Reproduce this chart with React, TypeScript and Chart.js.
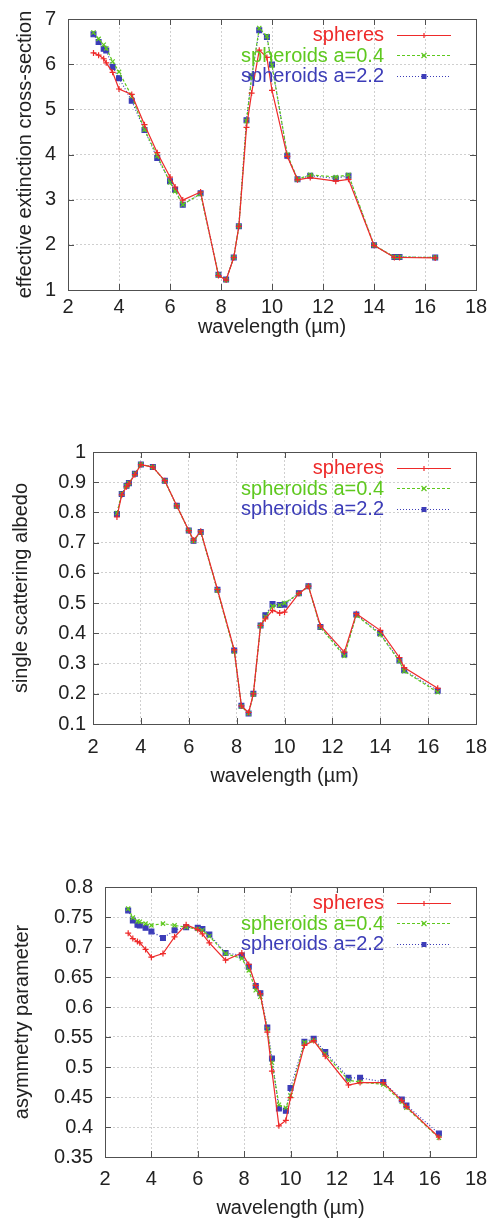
import React, { useEffect, useRef } from 'react';
import { Chart, registerables } from 'chart.js';

Chart.register(...registerables);

// ---------------- data ----------------
const wavelength = [3.0, 3.2, 3.4, 3.5, 3.75, 4.0, 4.5, 5.0, 5.5, 6.0, 6.2, 6.5, 7.2, 7.9, 8.2, 8.5, 8.7, 9.0, 9.2, 9.5, 9.8, 10.0, 10.6, 11.0, 11.5, 12.5, 13.0, 14.0, 14.8, 15.0, 16.4];

const seriesLabels = ['spheres', 'spheroids a=0.4', 'spheroids a=2.2'];

const extSpheres = [6.25, 6.20, 6.12, 6.03, 5.82, 5.45, 5.33, 4.66, 4.04, 3.50, 3.28, 2.99, 3.17, 1.32, 1.22, 1.72, 2.41, 4.60, 5.36, 6.31, 6.15, 5.42, 3.96, 3.44, 3.49, 3.41, 3.45, 1.99, 1.72, 1.72, 1.71];
const extSpheroids04 = [6.70, 6.56, 6.43, 6.35, 6.06, 5.83, 5.29, 4.55, 3.97, 3.38, 3.19, 2.89, 3.13, 1.33, 1.22, 1.72, 2.41, 4.74, 5.70, 6.80, 6.62, 5.97, 4.00, 3.45, 3.55, 3.50, 3.55, 1.99, 1.73, 1.73, 1.72];
const extSpheroids22 = [6.66, 6.49, 6.34, 6.30, 5.94, 5.69, 5.19, 4.54, 3.92, 3.41, 3.22, 2.89, 3.14, 1.34, 1.23, 1.72, 2.41, 4.76, 5.73, 6.75, 6.60, 5.99, 3.97, 3.45, 3.53, 3.47, 3.53, 1.99, 1.73, 1.73, 1.72];

const albSpheres = [0.785, 0.858, 0.885, 0.895, 0.925, 0.958, 0.950, 0.905, 0.822, 0.740, 0.708, 0.738, 0.545, 0.345, 0.160, 0.138, 0.200, 0.426, 0.448, 0.476, 0.467, 0.470, 0.532, 0.556, 0.425, 0.338, 0.465, 0.410, 0.320, 0.287, 0.218];
const albSpheroids04 = [0.798, 0.862, 0.888, 0.897, 0.928, 0.959, 0.950, 0.904, 0.821, 0.740, 0.706, 0.735, 0.542, 0.340, 0.158, 0.135, 0.198, 0.425, 0.455, 0.490, 0.493, 0.500, 0.531, 0.555, 0.420, 0.325, 0.460, 0.396, 0.308, 0.275, 0.205];
const albSpheroids22 = [0.795, 0.861, 0.888, 0.897, 0.928, 0.959, 0.950, 0.905, 0.822, 0.740, 0.706, 0.735, 0.544, 0.343, 0.160, 0.135, 0.200, 0.426, 0.460, 0.497, 0.494, 0.495, 0.533, 0.556, 0.421, 0.330, 0.462, 0.400, 0.310, 0.278, 0.210];

const asySpheres = [0.723, 0.714, 0.709, 0.707, 0.696, 0.683, 0.689, 0.717, 0.737, 0.729, 0.722, 0.707, 0.678, 0.690, 0.671, 0.636, 0.622, 0.558, 0.493, 0.402, 0.411, 0.449, 0.536, 0.544, 0.518, 0.470, 0.474, 0.474, 0.444, 0.434, 0.383];
const asySpheroids04 = [0.764, 0.749, 0.743, 0.742, 0.739, 0.736, 0.739, 0.736, 0.733, 0.730, 0.728, 0.718, 0.689, 0.681, 0.661, 0.628, 0.617, 0.563, 0.507, 0.437, 0.432, 0.453, 0.541, 0.544, 0.522, 0.478, 0.475, 0.471, 0.442, 0.432, 0.382];
const asySpheroids22 = [0.761, 0.744, 0.737, 0.736, 0.732, 0.726, 0.715, 0.728, 0.733, 0.732, 0.730, 0.721, 0.690, 0.686, 0.667, 0.635, 0.623, 0.566, 0.514, 0.431, 0.427, 0.465, 0.542, 0.547, 0.525, 0.482, 0.482, 0.475, 0.446, 0.436, 0.389];

const xTicks = [2, 4, 6, 8, 10, 12, 14, 16, 18];
const extTicks = [1, 2, 3, 4, 5, 6, 7];
const albTicks = [0.1, 0.2, 0.3, 0.4, 0.5, 0.6, 0.7, 0.8, 0.9, 1];
const asyTicks = [0.35, 0.4, 0.45, 0.5, 0.55, 0.6, 0.65, 0.7, 0.75, 0.8];

const xTitle = 'wavelength (\u00b5m)';
const extTitle = 'effective extinction cross-section';
const albTitle = 'single scattering albedo';
const asyTitle = 'asymmetry parameter';

// ---------------- styles ----------------
const FONT = '"Liberation Sans", Arial, Helvetica, sans-serif';
const TEXT = '#222222';
const seriesStyles = [
  { color: '#ee2a2a', dash: [] as number[], marker: 'plus' },
  { color: '#5ec81e', dash: [3, 2], marker: 'x' },
  { color: '#3c3cb8', dash: [1, 2], marker: 'square' },
];

function drawMarker(ctx: CanvasRenderingContext2D, kind: string, x: number, y: number, color: string) {
  ctx.save();
  ctx.setLineDash([]);
  ctx.strokeStyle = color;
  ctx.fillStyle = color;
  ctx.lineWidth = 1.2;
  ctx.beginPath();
  if (kind === 'plus') {
    ctx.moveTo(x - 2.5, y); ctx.lineTo(x + 2.5, y);
    ctx.moveTo(x, y - 2.5); ctx.lineTo(x, y + 2.5);
    ctx.stroke();
  } else if (kind === 'x') {
    ctx.moveTo(x - 2.5, y - 2.5); ctx.lineTo(x + 2.5, y + 2.5);
    ctx.moveTo(x - 2.5, y + 2.5); ctx.lineTo(x + 2.5, y - 2.5);
    ctx.stroke();
  } else {
    ctx.fillRect(x - 2.5, y - 2.5, 5, 5);
  }
  ctx.restore();
}

const framePlugin = {
  id: 'gnuFrame',
  afterDatasetsDraw(chart: any) {
    const { ctx, chartArea } = chart;
    const { left, right, top, bottom } = chartArea;
    ctx.save();
    ctx.setLineDash([]);
    ctx.strokeStyle = '#505050';
    ctx.lineWidth = 1;
    ctx.strokeRect(Math.round(left) + 0.5, Math.round(top) + 0.5, Math.round(right - left), Math.round(bottom - top));
    const tl = 6;
    const xs = chart.scales.x;
    const ys = chart.scales.y;
    ctx.beginPath();
    xs.ticks.forEach((t: any) => {
      const px = Math.round(xs.getPixelForValue(t.value)) + 0.5;
      ctx.moveTo(px, bottom); ctx.lineTo(px, bottom - tl);
      ctx.moveTo(px, top); ctx.lineTo(px, top + tl);
    });
    ys.ticks.forEach((t: any) => {
      const py = Math.round(ys.getPixelForValue(t.value)) + 0.5;
      ctx.moveTo(left, py); ctx.lineTo(left + tl, py);
      ctx.moveTo(right, py); ctx.lineTo(right - tl, py);
    });
    ctx.stroke();
    ctx.restore();
  },
};

const legendPlugin = {
  id: 'gnuKey',
  afterDraw(chart: any) {
    const { ctx, chartArea } = chart;
    const { right, top } = chartArea;
    ctx.save();
    ctx.font = `20px ${FONT}`;
    ctx.textAlign = 'right';
    ctx.textBaseline = 'middle';
    chart.data.datasets.forEach((ds: any, i: number) => {
      const st = seriesStyles[i];
      const y = top + 15.5 + i * 20.5;
      ctx.fillStyle = st.color;
      ctx.fillText(ds.label, right - 92, y + 1);
      ctx.strokeStyle = st.color;
      ctx.lineWidth = 1.2;
      ctx.setLineDash(st.dash);
      ctx.beginPath();
      ctx.moveTo(right - 79, Math.round(y) + 0.5);
      ctx.lineTo(right - 25, Math.round(y) + 0.5);
      ctx.stroke();
      drawMarker(ctx, st.marker, right - 52, Math.round(y) + 0.5, st.color);
    });
    ctx.restore();
  },
};

const pointStyleFor = (m: string) => (m === 'plus' ? 'cross' : m === 'x' ? 'crossRot' : 'rect');

type PanelProps = {
  series: number[][];
  yTicks: number[];
  yTitle: string;
  top: number;
  height: number;
  padTop: number;
  yWidth: number;
  xHeight: number;
  yTickPad: number;
  xTickPad: number;
  xTitlePad: number;
  yTitlePad: number;
};

const fmt = (v: number) => String(Number(Number(v).toFixed(2)));

function Panel(p: PanelProps) {
  const ref = useRef<HTMLCanvasElement | null>(null);
  useEffect(() => {
    if (!ref.current) return;
    const datasets = p.series.map((vals, i) => {
      const st = seriesStyles[i];
      return {
        label: seriesLabels[i],
        data: wavelength.map((x, j) => ({ x, y: vals[j] })),
        borderColor: st.color,
        backgroundColor: st.color,
        borderWidth: 1.2,
        borderDash: st.dash,
        pointStyle: pointStyleFor(st.marker),
        pointRadius: st.marker === 'square' ? 3.4 : 3,
        pointBorderWidth: 1.2,
        pointBorderColor: st.color,
        pointBackgroundColor: st.color,
        tension: 0,
        fill: false,
      };
    });
    const chart = new Chart(ref.current, {
      type: 'line',
      data: { datasets },
      options: {
        responsive: false,
        animation: false,
        events: [],
        layout: { padding: { top: p.padTop, right: 12, left: 0, bottom: 0 } },
        plugins: { legend: { display: false }, tooltip: { enabled: false } },
        scales: {
          x: {
            type: 'linear',
            min: 2,
            max: 18,
            afterBuildTicks: (s: any) => { s.ticks = xTicks.map((v) => ({ value: v })); },
            afterFit: (s: any) => { s.height = p.xHeight; s.paddingLeft = 0; s.paddingRight = 0; },
            ticks: { color: TEXT, font: { family: FONT, size: 20 }, padding: p.xTickPad, callback: (v: any) => fmt(v), maxRotation: 0, autoSkip: false },
            grid: { color: '#cfcfcf', drawTicks: false, lineWidth: 1 },
            border: { display: false, dash: [2, 2] },
            title: { display: true, text: xTitle, color: TEXT, font: { family: FONT, size: 20 }, padding: { top: 0, bottom: p.xTitlePad } },
          },
          y: {
            type: 'linear',
            min: p.yTicks[0],
            max: p.yTicks[p.yTicks.length - 1],
            afterBuildTicks: (s: any) => { s.ticks = p.yTicks.map((v) => ({ value: v })); },
            afterFit: (s: any) => { s.width = p.yWidth; s.paddingTop = 0; s.paddingBottom = 0; },
            ticks: { color: TEXT, font: { family: FONT, size: 20 }, padding: p.yTickPad, callback: (v: any) => fmt(v), autoSkip: false },
            grid: { color: '#cfcfcf', drawTicks: false, lineWidth: 1 },
            border: { display: false, dash: [2, 2] },
            title: { display: true, text: p.yTitle, color: TEXT, font: { family: FONT, size: 20 }, padding: { top: p.yTitlePad, bottom: 0 } },
          },
        },
      } as any,
      plugins: [framePlugin, legendPlugin],
    });
    return () => chart.destroy();
  }, []);
  return (
    <div style={{ position: 'absolute', left: 0, top: p.top, width: 488, height: p.height }}>
      <canvas ref={ref} width={488} height={p.height} style={{ display: 'block', width: 488, height: p.height }} />
    </div>
  );
}

export default function App() {
  return (
    <div style={{ position: 'absolute', left: 0, top: 0, width: 488, height: 1222, background: '#ffffff', overflow: 'hidden' }}>
      <Panel series={[extSpheres, extSpheroids04, extSpheroids22]} yTicks={extTicks} yTitle={extTitle}
        top={0} height={345} padTop={19} yWidth={68} xHeight={55} yTickPad={12} xTickPad={5} xTitlePad={6} yTitlePad={13} />
      <Panel series={[albSpheres, albSpheroids04, albSpheroids22]} yTicks={albTicks} yTitle={albTitle}
        top={345} height={445} padTop={107} yWidth={93} xHeight={66} yTickPad={7} xTickPad={11} xTitlePad={2} yTitlePad={9} />
      <Panel series={[asySpheres, asySpheroids04, asySpheroids22]} yTicks={asyTicks} yTitle={asyTitle}
        top={790} height={432} padTop={97} yWidth={105} xHeight={65} yTickPad={12} xTickPad={10} xTitlePad={2} yTitlePad={10} />
    </div>
  );
}
